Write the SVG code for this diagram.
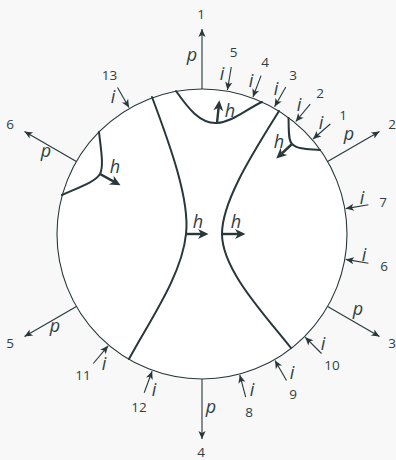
<svg xmlns="http://www.w3.org/2000/svg" width="396" height="460" viewBox="0 0 396 460">
<style>
.bg{fill:#f8f8f8}
.disk{fill:#ffffff;stroke:#27373a;stroke-width:1.1}
.thin{fill:none;stroke:#27373a;stroke-width:1.1;marker-end:url(#sm)}
.wall{fill:none;stroke:#27373a;stroke-width:2;stroke-linecap:round}
.harr{fill:none;stroke:#27373a;stroke-width:2.4;marker-end:url(#bg)}
.num{font-family:"Open Sans","Noto Sans",sans-serif;font-size:13.5px;fill:#2f3f42;text-anchor:middle}
.it{font-family:"Open Sans","Noto Sans",sans-serif;font-style:italic;font-size:18px;fill:#2f3f42;text-anchor:middle}
</style>
<defs>
<marker id="sm" markerUnits="userSpaceOnUse" markerWidth="10" markerHeight="10" viewBox="-1 -5 10 10" refX="8" refY="0" orient="auto">
<path d="M8,0 L0,-3.6 L2,0 L0,3.6 Z" fill="#27373a"/>
</marker>
<marker id="bg" markerUnits="userSpaceOnUse" markerWidth="14" markerHeight="14" viewBox="-1 -7 14 14" refX="3" refY="0" orient="auto">
<path d="M10.5,0 L0,-5 L3,0 L0,5 Z" fill="#27373a"/>
</marker>
</defs>
<rect class="bg" x="0" y="0" width="396" height="460"/>
<g id="disk"><circle class="disk" cx="202" cy="234" r="145"/></g>
<g id="walls">
<path class="wall" d="M99,132 C101,150 104,166 100,174 C95,182 80,187 62,195"/>
<path class="wall" d="M152,97 C170,145 190,200 186,234 C182,275 150,320 129,359"/>
<path class="wall" d="M279,111 C255,150 222,200 222,234 C222,270 265,315 291,348"/>
<path class="wall" d="M176,91 C188,108 200,124 217,123 C232,122 245,110 262,102"/>
<path class="wall" d="M288.5,118 C289,130 288,140 292,144 C298,150 310,149 320,150"/>
</g>
<g id="connectors">
<g id="p-arrows">
<line class="thin" x1="202" y1="89" x2="202" y2="29"/>
<line class="thin" x1="327.6" y1="161.5" x2="379.5" y2="131.5"/>
<line class="thin" x1="327.6" y1="306.5" x2="379.5" y2="336.5"/>
<line class="thin" x1="202" y1="379" x2="202" y2="439"/>
<line class="thin" x1="76.4" y1="306.5" x2="24.5" y2="336.5"/>
<line class="thin" x1="76.4" y1="161.5" x2="24.5" y2="131.5"/>
</g>
<g id="i-arrows">
<line class="thin" x1="330.3" y1="124" x2="313" y2="139"/>
<line class="thin" x1="310.2" y1="104.2" x2="295.8" y2="121.5"/>
<line class="thin" x1="285.8" y1="87.1" x2="274.6" y2="106.8"/>
<line class="thin" x1="261" y1="75.6" x2="253" y2="97"/>
<line class="thin" x1="231.3" y1="67" x2="227.4" y2="90"/>
<line class="thin" x1="368.4" y1="263.3" x2="345.8" y2="259.4"/>
<line class="thin" x1="368.4" y1="204.7" x2="345.8" y2="208.6"/>
<line class="thin" x1="245.7" y1="397.2" x2="239.8" y2="375"/>
<line class="thin" x1="286.5" y1="380.4" x2="275" y2="360.4"/>
<line class="thin" x1="321.5" y1="353.5" x2="305.2" y2="337.2"/>
<line class="thin" x1="93.3" y1="363.5" x2="108.1" y2="345.8"/>
<line class="thin" x1="144.2" y1="392.8" x2="152.1" y2="371.2"/>
<line class="thin" x1="117.5" y1="87.6" x2="129" y2="107.6"/>
</g>
<g id="h-arrows">
<line class="harr" x1="186" y1="234" x2="201" y2="234"/>
<line class="harr" x1="222" y1="234" x2="238" y2="234"/>
<line class="harr" x1="217" y1="123" x2="218.6" y2="107.7"/>
<line class="harr" x1="291.5" y1="144.5" x2="281.8" y2="153.5"/>
<line class="harr" x1="100" y1="174" x2="113.9" y2="181.6"/>
</g>
</g>
<g id="p-labels">
<text class="num" x="201" y="18.5">1</text>
<text class="num" x="392" y="129">2</text>
<text class="num" x="392" y="348">3</text>
<text class="num" x="201" y="457">4</text>
<text class="num" x="10" y="348">5</text>
<text class="num" x="10" y="129">6</text>
<text class="it" x="192" y="61">p</text>
<text class="it" x="349" y="140">p</text>
<text class="it" x="358" y="315">p</text>
<text class="it" x="211" y="413">p</text>
<text class="it" x="55" y="332">p</text>
<text class="it" x="46" y="157">p</text>
</g>
<g id="i-labels">
<text class="num" x="343" y="120">1</text>
<text class="num" x="320" y="98">2</text>
<text class="num" x="293" y="80">3</text>
<text class="num" x="265" y="67">4</text>
<text class="num" x="233.5" y="57">5</text>
<text class="num" x="384" y="271">6</text>
<text class="num" x="383" y="207">7</text>
<text class="num" x="249" y="417">8</text>
<text class="num" x="293" y="399">9</text>
<text class="num" x="332" y="370">10</text>
<text class="num" x="83" y="380">11</text>
<text class="num" x="139" y="412">12</text>
<text class="num" x="109.5" y="80">13</text>
<text class="it" x="321" y="129">i</text>
<text class="it" x="299" y="111">i</text>
<text class="it" x="276" y="95">i</text>
<text class="it" x="251" y="87">i</text>
<text class="it" x="222" y="80">i</text>
<text class="it" x="364" y="261">i</text>
<text class="it" x="362" y="204">i</text>
<text class="it" x="252" y="396">i</text>
<text class="it" x="292" y="379">i</text>
<text class="it" x="323" y="350">i</text>
<text class="it" x="104" y="370">i</text>
<text class="it" x="154" y="396">i</text>
<text class="it" x="113" y="103">i</text>
</g>
<g id="h-labels">
<text class="it" x="230" y="117">h</text>
<text class="it" x="279" y="148">h</text>
<text class="it" x="115" y="173">h</text>
<text class="it" x="198" y="228">h</text>
<text class="it" x="236" y="228">h</text>
</g>
</svg>
